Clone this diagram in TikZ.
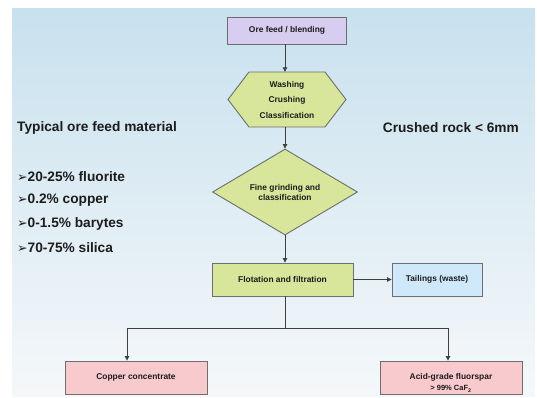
\documentclass[tikz,border=0pt]{standalone}
\usepackage{fontspec}
\setmainfont{Liberation Sans}
\newfontfamily\dvfont{DejaVu Sans}
\usetikzlibrary{arrows.meta,shapes.geometric,calc}
\definecolor{bgtop}{HTML}{C8E1EE}
\definecolor{bgbot}{HTML}{F5F8FA}
\definecolor{lav}{HTML}{D6CDF0}
\definecolor{grn}{HTML}{D7E69A}
\definecolor{tailc}{HTML}{CFE9FB}
\definecolor{pinkc}{HTML}{F8C9CD}
\definecolor{edge}{HTML}{6E6E6E}
\definecolor{ink}{HTML}{1C1C1C}
\definecolor{wire}{HTML}{404040}
\tikzset{
  boxtext/.style={font=\fontsize{8.4}{12}\selectfont\bfseries, text=ink, align=center},
  procbox/.style={boxtext, draw=edge, line width=0.9pt, rectangle, inner sep=0pt},
  bigtext/.style={font=\fontsize{13.7}{15}\selectfont\bfseries, text=ink, inner sep=0pt},
  arr/.style={draw=wire, line width=0.8pt, -{Triangle[length=4.5pt,width=4.5pt]}},
  plainwire/.style={draw=wire, line width=0.8pt}
}
\newcommand{\mybul}{{\dvfont\fontsize{12.5}{14}\selectfont ➢}}
\begin{document}
\begin{tikzpicture}[x=1pt,y=-1pt]
\useasboundingbox (0,0) rectangle (537,397);
\shade[top color=bgtop, bottom color=bgbot] (12,8) rectangle (535,396);

% ore feed
\node[procbox, fill=lav, minimum width=119pt, minimum height=27pt] (ore) at (287,30.5) {Ore feed / blending};

% hexagon
\coordinate (hc) at (287,99.5);
\draw[draw=edge, line width=0.9pt, fill=grn] ($(hc)+(-59,0)$) -- ($(hc)+(-38,-27.5)$) -- ($(hc)+(38,-27.5)$) -- ($(hc)+(59,0)$) -- ($(hc)+(38,27.5)$) -- ($(hc)+(-38,27.5)$) -- cycle;
\node[boxtext, font=\fontsize{8.4}{15.5}\selectfont\bfseries, minimum width=118pt, minimum height=55pt, inner sep=0pt] (hex) at (hc) {Washing\\Crushing\\Classification};

% diamond
\node[diamond, draw=edge, line width=0.9pt, fill=grn, boxtext, font=\fontsize{8.4}{10}\selectfont\bfseries, minimum width=145pt, minimum height=86pt, inner sep=0pt, aspect=1.686] (dia) at (285,192) {Fine grinding and\\classification};

% flotation
\node[procbox, fill=grn, minimum width=141pt, minimum height=33pt] (flot) at (282.5,279.5) {Flotation and filtration};
\node[procbox, fill=tailc, minimum width=90pt, minimum height=33pt] (tail) at (437,279.5) {Tailings (waste)};

% products
\node[procbox, fill=pinkc, minimum width=142pt, minimum height=33pt] (cop) at (136,377.5) {Copper concentrate};
\node[procbox, fill=pinkc, minimum width=142pt, minimum height=33pt] (acid) at (451,377.5) {};
\node[boxtext, inner sep=0pt] (acidtxt) at (451,383) {Acid-grade fluorspar\\[-1pt]{\fontsize{7.5}{9}\selectfont > 99\% CaF\textsubscript{2}}};

% connectors
\draw[arr] (ore.south -| dia.north) -- (dia.north |- hex.north);
\draw[arr] (hex.south -| dia.north) -- (dia.north);
\draw[arr] (dia.south) -- (dia.south |- flot.north);
\draw[arr] (flot.east) -- (tail.west);
\coordinate (split) at (285,328);
\draw[plainwire] (split |- flot.south) -- (split);
\draw[arr] (split) -| ([xshift=-9pt]cop.north);
\draw[arr] (split) -| ([xshift=-3pt]acid.north);

% side texts
\node[bigtext, anchor=west] (typ) at (17,128) {Typical ore feed material};
\node[bigtext, anchor=east] (crush) at (519,128) {Crushed rock < 6mm};
\node[bigtext, anchor=west] (b1) at (17,177) {\mybul20-25\% fluorite};
\node[bigtext, anchor=west] (b2) at (17,200.5) {\mybul0.2\% copper};
\node[bigtext, anchor=west] (b3) at (17,224) {\mybul0-1.5\% barytes};
\node[bigtext, anchor=west] (b4) at (17,248) {\mybul70-75\% silica};
\end{tikzpicture}
\end{document}
